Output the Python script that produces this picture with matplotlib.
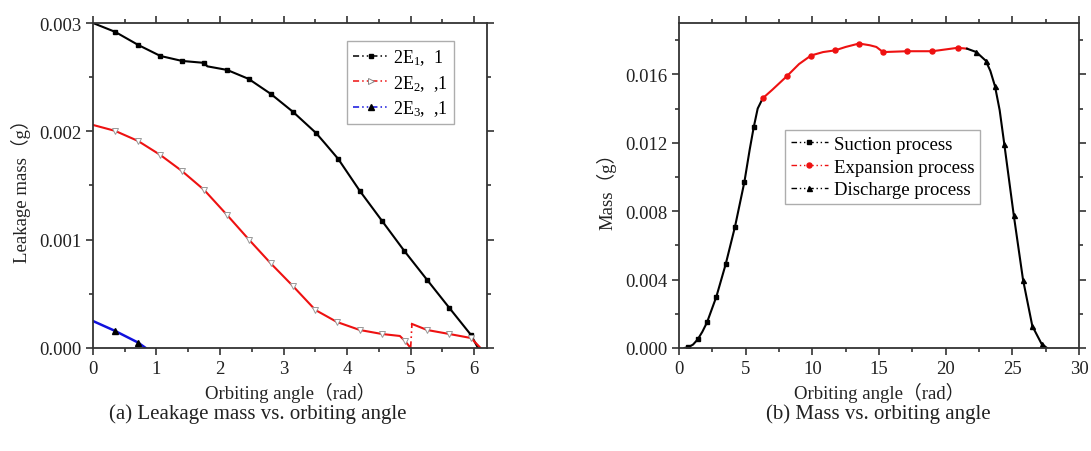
import numpy as np
import matplotlib
matplotlib.use('Agg')
import matplotlib.pyplot as plt
from matplotlib.lines import Line2D
from matplotlib.ticker import MultipleLocator, FormatStrFormatter

plt.rcParams['font.family'] = ['Liberation Serif', 'Noto Sans CJK SC']
plt.rcParams['mathtext.fontset'] = 'custom'
plt.rcParams['mathtext.rm'] = 'Liberation Serif'
plt.rcParams['mathtext.it'] = 'Liberation Serif:italic'

# (a) leakage mass, g
e1_x = [0, 0.35, 0.71, 1.06, 1.40, 1.75, 1.80, 2.11, 2.45, 2.80, 3.15, 3.51,
        3.65, 3.86, 4.20, 4.55, 4.90, 5.26, 5.61, 5.95, 6.06]
e1_y = [3.0, 2.918, 2.798, 2.696, 2.650, 2.632, 2.60, 2.567, 2.484, 2.345, 2.179,
        1.985, 1.89, 1.745, 1.450, 1.173, 0.896, 0.628, 0.369, 0.12, 0.0]
e1_marks = [1, 2, 3, 4, 5, 7, 8, 9, 10, 11, 13, 14, 15, 16, 17, 18, 19]

e2a_x = [0, 0.35, 0.71, 1.06, 1.40, 1.75, 2.11, 2.46, 2.80, 3.15, 3.50, 3.84,
         4.20, 4.55, 4.83, 4.91, 5.00]
e2a_y = [2.059, 2.004, 1.911, 1.782, 1.634, 1.459, 1.228, 0.997, 0.780, 0.570,
         0.351, 0.240, 0.166, 0.129, 0.111, 0.065, 0.0]
e2a_marks = [1, 2, 3, 4, 5, 6, 7, 8, 9, 10, 11, 12, 13, 15]
e2b_x = [5.02, 5.26, 5.61, 5.95, 6.10]
e2b_y = [0.222, 0.166, 0.129, 0.092, 0.0]
e2b_marks = [1, 2, 3]

e3_x = [0, 0.35, 0.71, 0.83]
e3_y = [0.249, 0.157, 0.05, 0.0]
e3_marks = [1, 2]

# (b) mass, g
suc_x = [0.4, 0.7, 1.05, 1.4, 1.75, 2.1, 2.8, 3.5, 4.2, 4.9, 5.3, 5.6, 5.9, 6.28]
suc_y = [0, 0.05, 0.2, 0.5, 0.95, 1.5, 3.0, 4.9, 7.1, 9.7, 11.6, 12.9, 14.0, 14.6]
suc_marks = [1, 3, 5, 6, 7, 8, 9, 11]

exp_x = [6.28, 7.0, 8.1, 9.0, 9.9, 10.8, 11.7, 12.5, 13.5, 14.3, 14.8, 15.3,
         17.1, 19.0, 20.9, 21.6]
exp_y = [14.6, 15.1, 15.9, 16.6, 17.1, 17.3, 17.4, 17.6, 17.8, 17.7, 17.6, 17.3,
         17.35, 17.35, 17.55, 17.5]
exp_marks = [0, 2, 4, 6, 8, 11, 12, 13, 14]

dis_x = [21.6, 22.3, 23.0, 23.35, 23.7, 24.05, 24.4, 25.1, 25.8, 26.5, 27.2, 27.6]
dis_y = [17.5, 17.3, 16.8, 16.2, 15.3, 13.9, 11.9, 7.8, 4.0, 1.28, 0.23, 0]
dis_marks = [1, 2, 4, 6, 7, 8, 9, 10]

INK = '#222222'
DASH = (0, (4, 2, 1, 2, 1, 2))


def _style_axes(ax):
    for sp in ax.spines.values():
        sp.set_color('#333333')
        sp.set_linewidth(1.3)
    ax.tick_params(which='both', direction='out', top=True, right=True,
                   labeltop=False, labelright=False, colors='#333333',
                   labelcolor=INK, labelsize=13.5, width=1.2)
    ax.tick_params(which='major', length=5)
    ax.tick_params(which='minor', length=3)


def _g(vals):
    return np.array(vals, dtype=float) / 1000.0


fig = plt.figure(figsize=(10.91, 4.52), dpi=100)
fig.patch.set_facecolor('white')

ax1 = fig.add_axes([0.0852, 0.2279, 0.3611, 0.719])
ax1.plot(e1_x, _g(e1_y), color='black', lw=1.5, marker='s', ms=3.3,
         markevery=e1_marks)
ax1.plot(e2a_x, _g(e2a_y), color='#ee1111', lw=1.5, marker='v', ms=4,
         mfc='white', mec='#999999', mew=0.7, markevery=e2a_marks)
ax1.plot([e2a_x[-1], e2b_x[0]], _g([e2a_y[-1], e2b_y[0]]), color='#ee1111',
         lw=1.2, ls=DASH)
ax1.plot(e2b_x, _g(e2b_y), color='#ee1111', lw=1.5, marker='v', ms=4,
         mfc='white', mec='#999999', mew=0.7, markevery=e2b_marks)
ax1.plot(e3_x, _g(e3_y), color='#1111dd', lw=1.8, marker='^', ms=4,
         mfc='black', mec='black', markevery=e3_marks)

ax1.set_xlim(0, 6.2)
ax1.set_ylim(0, 0.003)
ax1.xaxis.set_major_locator(MultipleLocator(1))
ax1.xaxis.set_minor_locator(MultipleLocator(0.5))
ax1.yaxis.set_major_locator(MultipleLocator(0.001))
ax1.yaxis.set_minor_locator(MultipleLocator(0.0005))
ax1.yaxis.set_major_formatter(FormatStrFormatter('%.3f'))
_style_axes(ax1)
ax1.set_xlabel('Orbiting angle（rad）', fontsize=13.5, color=INK, labelpad=4)
ax1.set_ylabel('Leakage mass（g）', fontsize=13.5, color=INK, labelpad=6)

h1 = [Line2D([], [], color='black', lw=1.1, ls=DASH, marker='s', ms=3.3),
      Line2D([], [], color='#ee1111', lw=1.1, ls=DASH, marker='>', ms=4.5,
             mfc='white', mec='#888888', mew=0.7),
      Line2D([], [], color='#1111dd', lw=1.1, ls=DASH, marker='^', ms=4,
             mfc='black', mec='black')]
lab1 = [r'2E$_{1}$,  1', r'2E$_{2}$,  ,1', r'2E$_{3}$,  ,1']
leg1 = ax1.legend(h1, lab1, loc='upper right', bbox_to_anchor=(0.925, 0.955),
                  fontsize=13, frameon=True, fancybox=False, edgecolor='#999999',
                  handlelength=2.0, handletextpad=0.2, borderpad=0.35,
                  labelspacing=0.3, borderaxespad=0.2)
leg1.get_frame().set_linewidth(1.0)

ax2 = fig.add_axes([0.6224, 0.2279, 0.3666, 0.719])
ax2.plot(suc_x, _g(suc_y), color='black', lw=1.5, marker='s', ms=3.2,
         markevery=suc_marks)
ax2.plot(exp_x, _g(exp_y), color='#ee1111', lw=1.5, marker='o', ms=3.6,
         markevery=exp_marks)
ax2.plot(dis_x, _g(dis_y), color='black', lw=1.5, marker='^', ms=3.6,
         markevery=dis_marks)

ax2.set_xlim(0, 30)
ax2.set_ylim(0, 0.019)
ax2.xaxis.set_major_locator(MultipleLocator(5))
ax2.xaxis.set_minor_locator(MultipleLocator(2.5))
ax2.yaxis.set_major_locator(MultipleLocator(0.004))
ax2.yaxis.set_minor_locator(MultipleLocator(0.002))
ax2.yaxis.set_major_formatter(FormatStrFormatter('%.3f'))
_style_axes(ax2)
ax2.set_xlabel('Orbiting angle（rad）', fontsize=13.5, color=INK, labelpad=4)
ax2.set_ylabel('Mass（g）', fontsize=13.5, color=INK, labelpad=6)

h2 = [Line2D([], [], color='black', lw=1.0, ls=DASH, marker='s', ms=3.2),
      Line2D([], [], color='#ee1111', lw=1.0, ls=DASH, marker='o', ms=3.6),
      Line2D([], [], color='black', lw=1.0, ls=DASH, marker='^', ms=3.6)]
lab2 = ['Suction process', 'Expansion process', 'Discharge process']
leg2 = ax2.legend(h2, lab2, loc='upper left', bbox_to_anchor=(0.265, 0.67),
                  fontsize=13.5, frameon=True, fancybox=False, edgecolor='#999999',
                  handlelength=2.0, handletextpad=0.3, borderpad=0.3,
                  labelspacing=0.3, borderaxespad=0.0)
leg2.get_frame().set_linewidth(1.0)

fig.text(0.2365, 0.084, '(a) Leakage mass vs. orbiting angle', ha='center',
         va='center', fontsize=15, color=INK)
fig.text(0.8048, 0.084, '(b) Mass vs. orbiting angle', ha='center',
         va='center', fontsize=15, color=INK)

fig.savefig('out.png', dpi=100, facecolor='white')
